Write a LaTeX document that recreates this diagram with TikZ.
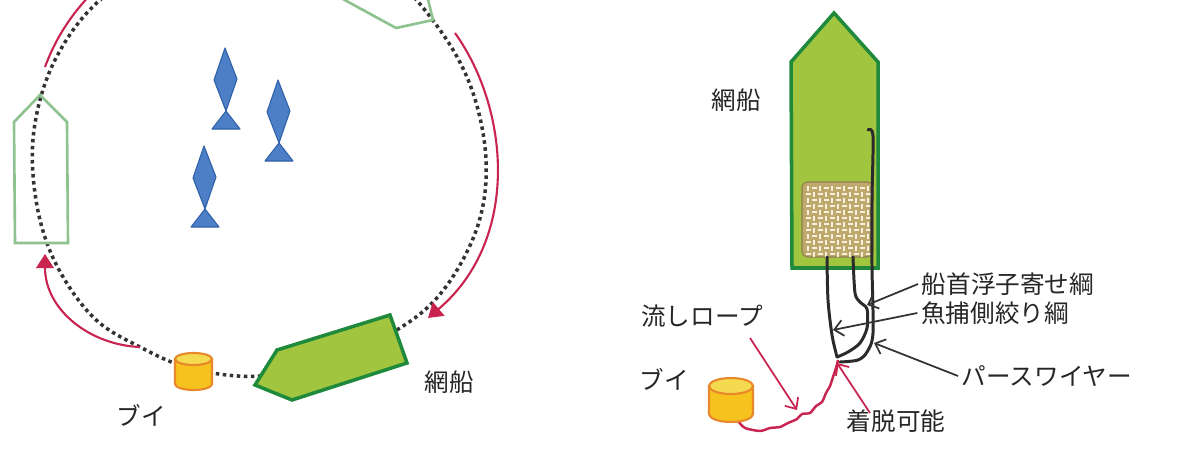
\documentclass[tikz,border=0pt]{standalone}
\usepackage{fontspec}
\newfontfamily\jpfont{Noto Sans CJK JP}
\usepackage{tikz}
\usetikzlibrary{arrows.meta}

\definecolor{boatgreen}{HTML}{A2C53F}
\definecolor{boatedge}{HTML}{1F8A3C}
\definecolor{ghostedge}{HTML}{8EC38F}
\definecolor{fishblue}{HTML}{4C7FC6}
\definecolor{fishedge}{HTML}{2F60A8}
\definecolor{ropered}{HTML}{C8244F}
\definecolor{buoyfill}{HTML}{F6C21E}
\definecolor{buoytop}{HTML}{F4DA4E}
\definecolor{buoyedge}{HTML}{E8882A}
\definecolor{netfill}{HTML}{BFA86C}
\definecolor{netline}{HTML}{F7F1DD}
\definecolor{wire}{HTML}{2B2B2B}

\tikzset{
  boat/.style={fill=boatgreen, draw=boatedge, line width=2pt},
  ghost/.style={draw=ghostedge, line width=1.5pt},
  fish/.style={fill=fishblue, draw=fishedge, line width=0.6pt, line join=round},
  buoy/.style={fill=buoyfill, draw=buoyedge, line width=1.2pt},
  course/.style={draw=black!80, line width=2pt, dash pattern=on 2pt off 2pt},
  move/.style={draw=ropered, line width=1.2pt, -{Triangle[length=8pt,width=10pt]}},
  wirerope/.style={draw=wire, line width=1.7pt, line cap=round, line join=round},
  leader/.style={draw=black!80, line width=1pt, -{Straight Barb[length=5pt,width=9pt]}},
  redleader/.style={leader, draw=ropered},
  weave/.style={draw=netline, line width=1.1pt},
  lbl/.style={font=\jpfont\fontsize{14}{16}\selectfont, text=black!85, inner sep=2pt}
}

\begin{document}
\begin{tikzpicture}[x=0.02cm, y=-0.02cm]
  \useasboundingbox (0,0) rectangle (1189,453);
  \clip (0,0) rectangle (1189,453);

  % --- encircling course ---
  \draw[course]
    plot[smooth cycle, tension=0.6] coordinates {
      (258,-55) (170,-40) (100,0) (55,60) (34,130) (36,200) (55,262)
      (93,317) (140,347) (193,369) (260,376) (330,360) (400,328)
      (445,288) (478,225) (486,160) (472,90) (440,30) (390,-25) (330,-50)};

  % direction of the boat
  \draw[move]
    (455,33)
    .. controls (510,110) and (520,240) ..
    (428,318);
  \draw[move]
    (140,347)
    .. controls (90,345) and (45,310) ..
    (45,254);
  \draw[draw=ropered, line width=1.2pt]
    (45,67)
    .. controls (55,40) and (70,15) ..
    (95,-10);

  % earlier positions of the boat
  \draw[ghost]
    (40,95) -- (67,122) -- (68,243) -- (15,243) -- (14,122) -- cycle;
  \draw[ghost]
    (433,20) -- (396,28) -- (275,-38) -- (300,-85) -- (424,-17) -- cycle;

  % school of fish
  \foreach \fx/\fy in {225/48, 278/80, 204/146}{
    \filldraw[fish]
      (\fx,\fy) -- ({\fx+12},{\fy+31}) -- ({\fx+1},{\fy+63})
      -- ({\fx-11},{\fy+32}) -- cycle;
    \filldraw[fish]
      ({\fx+1},{\fy+63}) -- ({\fx+15},{\fy+81}) -- ({\fx-13},{\fy+81}) -- cycle;
  }

  % buoy
  \filldraw[buoy]
    (175,359) -- (175,384)
    arc[start angle=180, end angle=0, x radius=18.5, y radius=6]
    -- (212,359) -- cycle;
  \filldraw[buoy, fill=buoytop]
    (193.5,359) ellipse [x radius=18.5, y radius=6];

  % net boat
  \filldraw[boat]
    (255,385) -- (277,350) -- (390,315) -- (407,363) -- (292,400) -- cycle;

  \node[lbl] (buoyL) at (141,415) {ブイ};
  \node[lbl] (boatL) at (449,382) {網船};

  % ===== net boat close up =====
  \filldraw[boat]
    (834,13) -- (878,62) -- (878,268) -- (792,268) -- (791,62) -- cycle;

  \filldraw[fill=netfill, draw=netfill!75!black, line width=0.6pt, rounded corners=3pt]
    (802,182) rectangle (873,257);
  \foreach \i in {0,...,10}{
    \foreach \j in {0,...,11}{
      \pgfmathtruncatemacro{\k}{\i+\j}
      \ifodd\k
        \draw[weave] ({806+6*\i},{188+6*\j}) -- +(5,0);
      \else
        \draw[weave] ({808+6*\i},{186+6*\j}) -- +(0,5);
      \fi
    }
  }

  % wires
  \draw[wirerope]
    plot[smooth] coordinates {(827,257) (828,300) (832,335) (837,357)};
  \draw[wirerope]
    plot[smooth] coordinates {(853,257) (855,293) (860,302) (867,309)
      (867,328) (860,343) (848,352) (837,357)};
  \draw[wirerope]
    plot[smooth] coordinates {(868,130) (873,136) (872,200) (872,267)
      (873,333) (867,352) (858,360) (840,362)};

  % buoy and drifting rope
  \draw[draw=ropered, line width=1.4pt, line join=round]
    plot[smooth, tension=0.4] coordinates {(737,420) (745,428) (760,431) (770,428)
      (780,427) (788,423) (797,419) (802,414) (810,413) (816,406) (822,402)
      (826,393) (830,386) (833,377) (836,368) (838,360)};
  \filldraw[buoy]
    (709,386) -- (709,414)
    arc[start angle=180, end angle=0, x radius=22, y radius=8]
    -- (753,386) -- cycle;
  \filldraw[buoy, fill=buoytop]
    (731,386) ellipse [x radius=22, y radius=8];

  % labels
  \node[lbl] (boatR) at (736,100) {網船};
  \node[lbl] (float) at (1008,284) {船首浮子寄せ綱};
  \node[lbl] (catch) at (995,313) {魚捕側絞り綱};
  \node[lbl] (purse) at (1047,376) {パースワイヤー};
  \node[lbl] (drift) at (702,316) {流しロープ};
  \node[lbl] (buoyR) at (664,379) {ブイ};
  \node[lbl] (detach) at (896,421) {着脱可能};

  \coordinate (floatend) at (867,305);
  \coordinate (catchend) at (833,330);
  \coordinate (purseend) at (874,343);
  \coordinate (drifttail) at (750,338);
  \coordinate (driftend) at (797,410);
  \coordinate (detachtail) at (870,413);
  \coordinate (detachend) at (837,363);

  \draw[leader] (float.west) -- (floatend);
  \draw[leader] (catch.west) -- (catchend);
  \draw[leader] (purse.west) -- (purseend);
  \draw[redleader] (drifttail) -- (driftend);
  \draw[redleader] (detachtail) -- (detachend);
\end{tikzpicture}
\end{document}
